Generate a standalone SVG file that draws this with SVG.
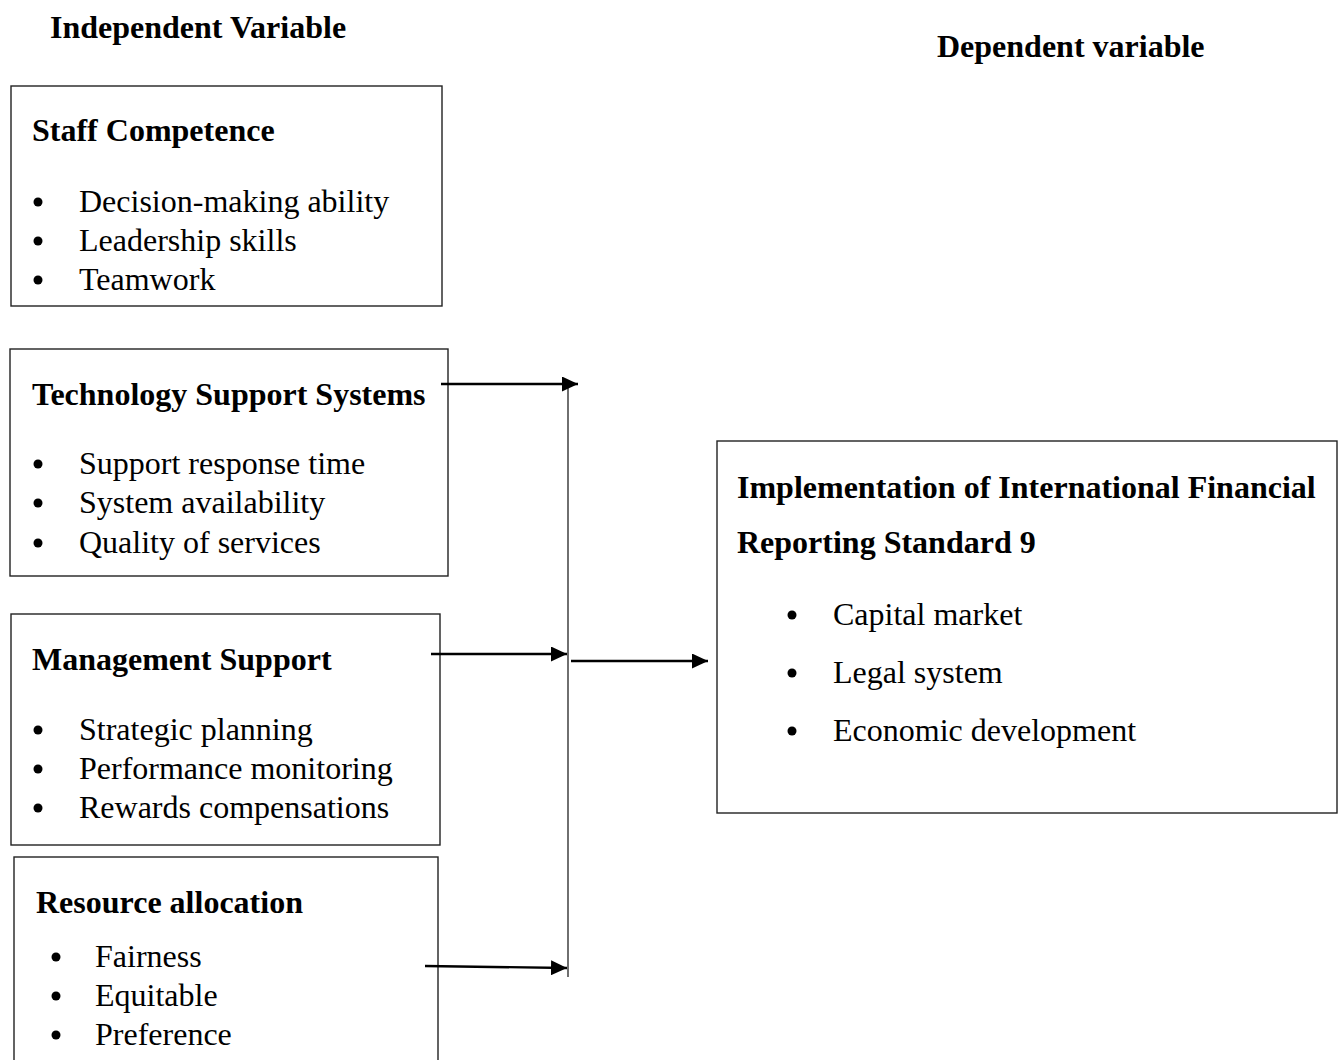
<svg xmlns="http://www.w3.org/2000/svg" width="1341" height="1060" viewBox="0 0 1341 1060">
<style>
.box{fill:#fff;stroke:#222;stroke-width:1.4}
.h{font-family:"Liberation Serif",serif;font-weight:bold;font-size:32px;fill:#000}
.t{font-family:"Liberation Serif",serif;font-size:32px;fill:#000}
.lbl{font-family:"Liberation Serif",serif;font-weight:bold;font-size:32px;fill:#000}
.c{stroke:#000;stroke-width:2.4;fill:none}
.v{stroke:#333;stroke-width:1.4;fill:none}
.dot{fill:#000}
</style>
<defs>
<marker id="ah" markerWidth="16" markerHeight="15" refX="16" refY="7.5" orient="auto" markerUnits="userSpaceOnUse">
<path d="M0,0 L16,7.5 L0,15 z" fill="#000"/>
</marker>
</defs>
<rect width="1341" height="1060" fill="#fff"/>
<text class="lbl" x="50" y="38">Independent Variable</text>
<text class="lbl" x="937" y="57">Dependent variable</text>

<g id="staff">
<rect class="box" x="11" y="86" width="431" height="220"/>
<text class="h" x="32" y="141">Staff Competence</text>
<circle class="dot" cx="38" cy="202" r="4.5"/><text class="t" x="79" y="212">Decision-making ability</text>
<circle class="dot" cx="38" cy="241" r="4.5"/><text class="t" x="79" y="251">Leadership skills</text>
<circle class="dot" cx="38" cy="280" r="4.5"/><text class="t" x="79" y="290">Teamwork</text>
</g>

<g id="tech">
<rect class="box" x="10" y="349" width="438" height="227"/>
<text class="h" x="32" y="405">Technology Support Systems</text>
<circle class="dot" cx="38" cy="464" r="4.5"/><text class="t" x="79" y="474">Support response time</text>
<circle class="dot" cx="38" cy="503" r="4.5"/><text class="t" x="79" y="513">System availability</text>
<circle class="dot" cx="38" cy="543" r="4.5"/><text class="t" x="79" y="553">Quality of services</text>
</g>

<g id="mgmt">
<rect class="box" x="11" y="614" width="429" height="231"/>
<text class="h" x="32" y="670">Management Support</text>
<circle class="dot" cx="38" cy="730" r="4.5"/><text class="t" x="79" y="740">Strategic planning</text>
<circle class="dot" cx="38" cy="769" r="4.5"/><text class="t" x="79" y="779">Performance monitoring</text>
<circle class="dot" cx="38" cy="808" r="4.5"/><text class="t" x="79" y="818">Rewards compensations</text>
</g>

<g id="resource">
<rect class="box" x="14" y="857" width="424" height="220"/>
<text class="h" x="36" y="913">Resource allocation</text>
<circle class="dot" cx="56" cy="957" r="4.5"/><text class="t" x="95" y="967">Fairness</text>
<circle class="dot" cx="56" cy="996" r="4.5"/><text class="t" x="95" y="1006">Equitable</text>
<circle class="dot" cx="56" cy="1035" r="4.5"/><text class="t" x="95" y="1045">Preference</text>
</g>

<g id="ifrs">
<rect class="box" x="717" y="441" width="620" height="372"/>
<text class="h" x="737" y="498">Implementation of International Financial</text>
<text class="h" x="737" y="553">Reporting Standard 9</text>
<circle class="dot" cx="792" cy="615" r="4.5"/><text class="t" x="833" y="625">Capital market</text>
<circle class="dot" cx="792" cy="673" r="4.5"/><text class="t" x="833" y="683">Legal system</text>
<circle class="dot" cx="792" cy="731" r="4.5"/><text class="t" x="833" y="741">Economic development</text>
</g>

<g id="connectors">
<line class="v" x1="568" y1="388" x2="568" y2="977"/>
<line class="c" x1="441" y1="384" x2="578" y2="384" marker-end="url(#ah)"/>
<line class="c" x1="431" y1="654" x2="567" y2="654" marker-end="url(#ah)"/>
<line class="c" x1="571" y1="661" x2="708" y2="661" marker-end="url(#ah)"/>
<line class="c" x1="425" y1="966" x2="567" y2="968" marker-end="url(#ah)"/>
</g>
</svg>
